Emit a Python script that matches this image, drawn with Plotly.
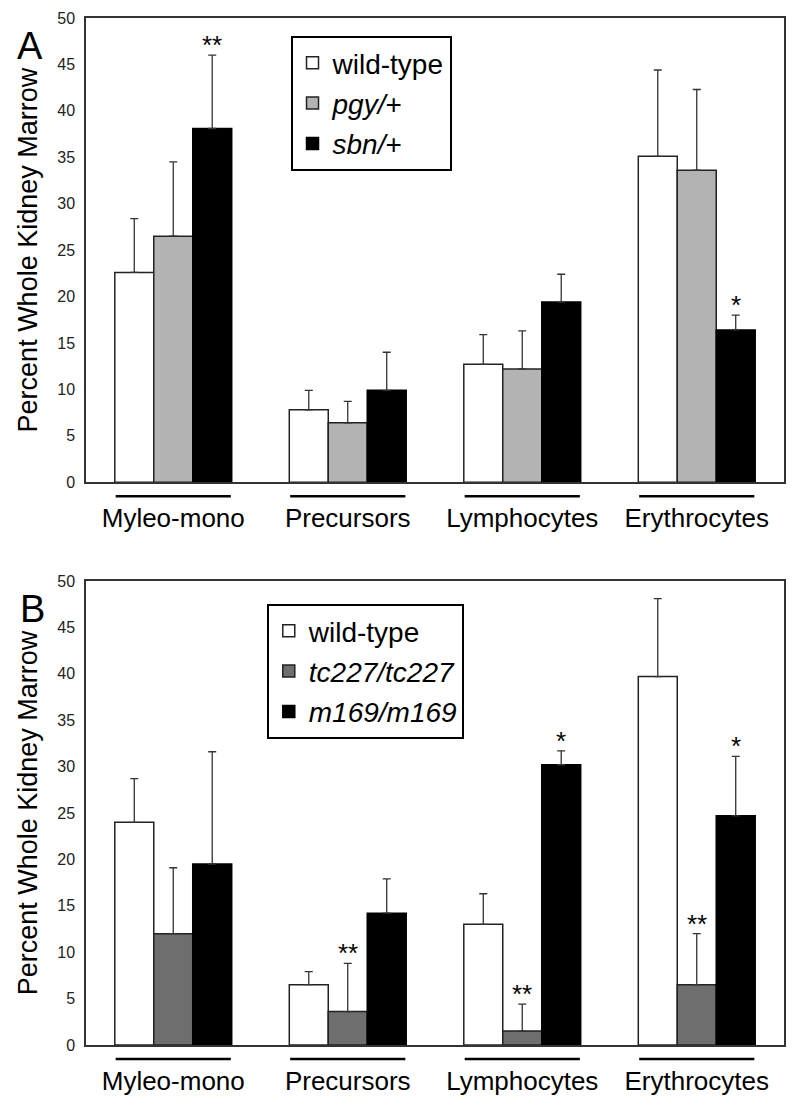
import plotly.graph_objects as go

# categories shared by both panels
categories = ["Myleo-mono", "Precursors", "Lymphocytes", "Erythrocytes"]

# panel A: heterozygotes (mean, upper SD)
a_names = ["wild-type", "<i>pgy/</i>+", "<i>sbn/</i>+"]
a_wt = [22.6, 7.8, 12.7, 35.1]
a_wt_sd = [5.8, 2.1, 3.2, 9.3]
a_pgy = [26.5, 6.4, 12.2, 33.6]
a_pgy_sd = [8.0, 2.3, 4.1, 8.7]
a_sbn = [38.1, 9.9, 19.4, 16.4]
a_sbn_sd = [7.9, 4.1, 3.0, 1.6]
a_sig = [["", "", "", ""], ["", "", "", ""], ["**", "", "", "*"]]

# panel B: homozygotes
b_names = ["wild-type", "<i>tc227/tc227</i>", "<i>m169/m169</i>"]
b_wt = [24.0, 6.5, 13.0, 39.7]
b_wt_sd = [4.7, 1.4, 3.3, 8.4]
b_tc = [12.0, 3.6, 1.5, 6.5]
b_tc_sd = [7.1, 5.2, 2.9, 5.5]
b_m169 = [19.5, 14.2, 30.2, 24.7]
b_m169_sd = [12.1, 3.7, 1.5, 6.4]
b_sig = [["", "", "", ""], ["", "**", "**", "**"], ["", "", "*", "*"]]

FONT = "Liberation Sans, Arial, sans-serif"
BARGAP = 0.33
bw = (1 - BARGAP) / 3
xpos = list(range(len(categories)))

fig = go.Figure()

panels = [
    ("x", "y", "legend", a_names, [a_wt, a_pgy, a_sbn], [a_wt_sd, a_pgy_sd, a_sbn_sd],
     ["white", "#b3b3b3", "black"], a_sig),
    ("x2", "y2", "legend2", b_names, [b_wt, b_tc, b_m169], [b_wt_sd, b_tc_sd, b_m169_sd],
     ["white", "#6e6e6e", "black"], b_sig),
]

for xa, ya, leg, names, vals, sds, cols, sig in panels:
    for k in range(3):
        fig.add_trace(go.Bar(
            x=xpos, y=vals[k], name=names[k], xaxis=xa, yaxis=ya, legend=leg,
            legendgroup=leg + str(k),
            marker=dict(color=cols[k], line=dict(color="#222" if k < 2 else "black", width=1.5)),
            error_y=dict(type="data", symmetric=False, array=sds[k],
                         arrayminus=[0] * len(vals[k]), color="#333", thickness=1.3, width=4),
        ))
        for i in range(len(categories)):
            if sig[k][i]:
                fig.add_annotation(
                    x=xpos[i] + (k - 1) * bw, y=vals[k][i] + sds[k][i], xref=xa, yref=ya,
                    text=sig[k][i], showarrow=False, yanchor="bottom", yshift=-7,
                    font=dict(family=FONT, size=26, color="black"))
    # underline below each category
    for i in range(len(categories)):
        fig.add_shape(type="line", xref=xa, yref=ya + " domain",
                      x0=xpos[i] - 0.33, x1=xpos[i] + 0.33, y0=-0.03, y1=-0.03,
                      line=dict(color="black", width=2.5))

axis_common = dict(showline=True, mirror=True, linecolor="#333", linewidth=1.5,
                   showgrid=False, zeroline=False, automargin=False)
xcommon = dict(axis_common, range=[-0.5, 3.5], tickvals=xpos, ticktext=categories,
               ticks="", ticklabelstandoff=12, tickfont=dict(family=FONT, size=26, color="black"))
ycommon = dict(axis_common, range=[0, 50], dtick=5, ticks="", ticklabelstandoff=6,
               tickfont=dict(family=FONT, size=16, color="#222"),
               title=dict(text="Percent Whole Kidney Marrow", standoff=12,
                          font=dict(family=FONT, size=27, color="black")))

legend_common = dict(xanchor="left", yanchor="top", bordercolor="black", borderwidth=2,
                     bgcolor="white", font=dict(family=FONT, size=28, color="black"),
                     tracegroupgap=1, itemwidth=30)

# page body adds a small margin, so the figure is sized and offset to compensate
fig.update_layout(
    width=792, height=1093,
    margin=dict(l=78, r=16, t=10, b=56),
    paper_bgcolor="white", plot_bgcolor="white",
    barmode="group", bargap=BARGAP, bargroupgap=0,
    xaxis=dict(xcommon, domain=[0, 1], anchor="y"),
    yaxis=dict(ycommon, domain=[0.548, 1], anchor="x"),
    xaxis2=dict(xcommon, domain=[0, 1], anchor="y2"),
    yaxis2=dict(ycommon, domain=[0, 0.4518], anchor="x2"),
    legend=dict(legend_common, x=0.293, y=0.9825),
    legend2=dict(legend_common, x=0.259, y=0.4294),
    showlegend=True,
)

for label, px, py in [("A", -0.080, 0.9727), ("B", -0.076, 0.4245)]:
    fig.add_annotation(text=label, x=px, y=py, xref="paper", yref="paper",
                       showarrow=False, xanchor="center", yanchor="middle",
                       font=dict(family=FONT, size=38, color="black"))

fig.write_html("out.html")
